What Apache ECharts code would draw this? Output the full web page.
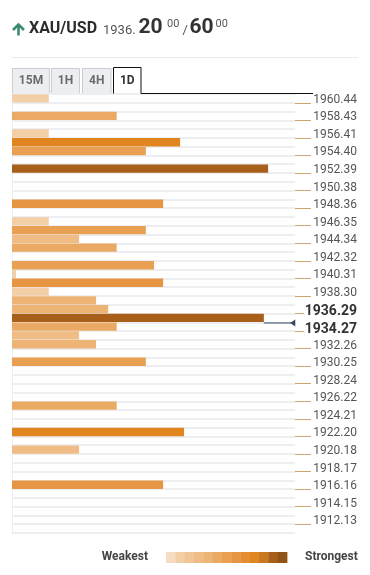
<!DOCTYPE html>
<html><head><meta charset="utf-8">
<script src="https://cdn.jsdelivr.net/npm/echarts@6/dist/echarts.min.js"></script>
<style>html,body{margin:0;padding:0;background:#fff}#c{width:370px;height:575px}</style>
</head><body><div id="c"></div>
<script>
// ---- data ----
const pairName = 'XAU/USD';
const pricePrefix = '1936.';
const bidPips = '20';
const askPips = '60';
const pipFraction = '00';
const tabs = ['15M', '1H', '4H', '1D'];
const activeTab = '1D';
const currentPrice = 1936.20;
const markerLevel = 1935.2;

const levelLabels = ['1960.44','1958.43','1956.41','1954.40','1952.39','1950.38','1948.36','1946.35',
  '1944.34','1942.32','1940.31','1938.30','1936.29','1934.27','1932.26','1930.25','1928.24',
  '1926.22','1924.21','1922.20','1920.18','1918.17','1916.16','1914.15','1912.13'];
const rowCount = 50; // two rows per labelled level
const barRows     = [0, 2, 4, 5, 6, 8, 12, 14, 15, 16, 17, 19, 20, 21, 22, 23, 24, 25, 26, 27, 28, 30, 35, 38, 40, 44];
const barStrength = [13, 37, 13, 59.4, 47.3, 90.5, 53.4, 13, 47.3, 23.7, 37, 50.2, 1.4, 53.4, 13, 29.7, 34, 89, 37, 23.7, 29.7, 47.3, 37, 60.8, 23.7, 53.4];

const strengthBreaks = [0, 1, 20, 22, 27, 35, 42, 52, 56, 58, 70, 80, 95, 101];
const palette = ['#f6dcc0','#f3cfa7','#f1c595','#efbc86','#edb476','#ebaa64','#e9a053',
  '#e69643','#e48d33','#e08520','#c97820','#a85f19','#8f5416'];

// ---- derived ----
const rowIds = Array.from({length: rowCount}, (_, i) => String(i));
const rowData = rowIds.map(() => '-');
barRows.forEach((r, i) => { rowData[r] = barStrength[i]; });

const nums = levelLabels.map(Number);
const step = (nums[0] - nums[nums.length - 1]) / (nums.length - 1);
const topPrice = nums[0] + step / 2;
const bottomPrice = nums[nums.length - 1] - step / 2;
const above = Math.min(...nums.filter(v => v >= currentPrice));
const below = Math.max(...nums.filter(v => v <= currentPrice));
const isBold = v => Number(v) === above || Number(v) === below;

const markerRowPos = (topPrice - markerLevel) / (step / 2);
let markerStart = 0;
barRows.forEach((r, i) => { if (r + 1 <= markerRowPos + 0.01) markerStart = barStrength[i]; });

const pieces = palette.map((c, i) => ({gte: strengthBreaks[i], lt: strengthBreaks[i + 1], color: c}));

// ---- graphic (header, tabs, legend) ----
const FONT = 'Roboto';
const g = [];
// arrow
g.push({type:'polyline', shape:{points:[[13,30],[18.5,24.5],[24,30]]}, style:{stroke:'#3c8b6e', lineWidth:2.6, fill:null}});
g.push({type:'line', shape:{x1:18.5,y1:25,x2:18.5,y2:35.5}, style:{stroke:'#3c8b6e', lineWidth:2.6}});
g.push({type:'text', x:29, y:29, style:{text:pairName, font:'bold 16px ' + FONT, fill:'#2b2b2b', verticalAlign:'middle'}});
g.push({type:'text', x:103, y:30.5, style:{text:pricePrefix, font:'13px ' + FONT, fill:'#555', verticalAlign:'middle'}});
g.push({type:'text', x:138.5, y:28, style:{text:bidPips, font:'bold 21px ' + FONT, fill:'#333', verticalAlign:'middle'}});
g.push({type:'text', x:167, y:24, style:{text:pipFraction, font:'11px ' + FONT, fill:'#555', verticalAlign:'middle'}});
g.push({type:'text', x:182.5, y:30.5, style:{text:'/', font:'13px ' + FONT, fill:'#555', verticalAlign:'middle'}});
g.push({type:'text', x:189.5, y:28, style:{text:askPips, font:'bold 21px ' + FONT, fill:'#333', verticalAlign:'middle'}});
g.push({type:'text', x:215.5, y:24, style:{text:pipFraction, font:'11px ' + FONT, fill:'#555', verticalAlign:'middle'}});
g.push({type:'line', shape:{x1:12,y1:57.5,x2:358,y2:57.5}, style:{stroke:'#e9e9e9', lineWidth:1}});
// tabs
const tabBoxes = [[12.5,37],[51.5,28],[82.5,28.5],[113.5,27.5]];
tabs.forEach((t, i) => {
  const [x, w] = tabBoxes[i];
  if (t === activeTab) {
    g.push({type:'polyline', shape:{points:[[x,93.5],[x,67.5],[x+w,67.5],[x+w,93.5],[313,93.5]]}, style:{stroke:'#111', lineWidth:1, fill:null}, z:10});
    g.push({type:'text', x:x + w/2, y:81, style:{text:t, font:'bold 12px ' + FONT, fill:'#333', align:'center', verticalAlign:'middle'}, z:10});
  } else {
    g.push({type:'rect', shape:{x:x, y:68.5, width:w, height:25}, style:{fill:'#eceef1', stroke:'#c9ccd1', lineWidth:1}});
    g.push({type:'text', x:x + w/2, y:81, style:{text:t, font:'bold 12px ' + FONT, fill:'#6b6b6b', align:'center', verticalAlign:'middle'}});
  }
});
// legend
g.push({type:'text', x:148, y:557, style:{text:'Weakest', font:'bold 12px ' + FONT, fill:'#444', align:'right', verticalAlign:'middle'}});
const lw = 121 / palette.length;
palette.forEach((c, i) => {
  g.push({type:'rect', shape:{x:166 + i*lw, y:552, width:lw + 0.4, height:11}, style:{fill:c}});
});
g.push({type:'text', x:305, y:557, style:{text:'Strongest', font:'bold 12px ' + FONT, fill:'#444', verticalAlign:'middle'}});

const chart = echarts.init(document.getElementById('c'), null, {renderer:'canvas'});
chart.setOption({
  animation: false,
  backgroundColor: '#fff',
  textStyle: {fontFamily: FONT},
  grid: {left: 12, top: 94, width: 283, height: 439, containLabel: false, outerBoundsMode: 'none'},
  xAxis: {type: 'value', min: 0, max: 100, show: false},
  yAxis: [
    {type:'category', data: rowIds, inverse: true, position: 'left',
     axisLine:{show:true, lineStyle:{color:'#eceef2'}}, axisTick:{show:false}, axisLabel:{show:false},
     splitLine:{show:true, interval:0, lineStyle:{color:'#eceef2', width:2}}},
    {type:'category', data: levelLabels, inverse: true, position: 'right', offset: 0,
     axisLine:{show:false},
     axisTick:{show:true, alignWithLabel:true, length:16, interval:(i, v) => !isBold(v), lineStyle:{color:'#cfa36c'}},
     axisLabel:{interval:0, margin:62, align:'right',
       formatter: v => isBold(v) ? '{b|' + v + '}' : '{n|' + v + '}',
       rich: {
         n: {fontSize:12, color:'#555', fontFamily:FONT, padding:[0,0,6,0]},
         b: {fontSize:14, fontWeight:'bold', color:'#333', fontFamily:FONT, padding:[0,0,4,0]}
       }},
     splitLine:{show:false}},
    {type:'category', data: levelLabels, inverse: true, position: 'right', offset: 0,
     axisLine:{show:false}, axisLabel:{show:false}, splitLine:{show:false},
     axisTick:{show:true, alignWithLabel:true, length:9, interval:(i, v) => isBold(v), lineStyle:{color:'#cfa36c'}}},
    {type:'value', min: bottomPrice, max: topPrice, show: false}
  ],
  visualMap: {type:'piecewise', show:false, seriesIndex:0, dimension:0, pieces: pieces},
  series: [
    {type:'bar', yAxisIndex:0, data: rowData, barCategoryGap:'5%', silent:true},
    {type:'line', yAxisIndex:3, silent:true, z:5,
     lineStyle:{color:'#34495e', width:1}, itemStyle:{color:'#34495e'},
     showSymbol:true,
     data:[{value:[markerStart, markerLevel], symbol:'none'},
           {value:[99.2, markerLevel], symbol:'triangle', symbolSize:[7,5], symbolRotate:90}]}
  ],
  graphic: g
});
</script></body></html>
